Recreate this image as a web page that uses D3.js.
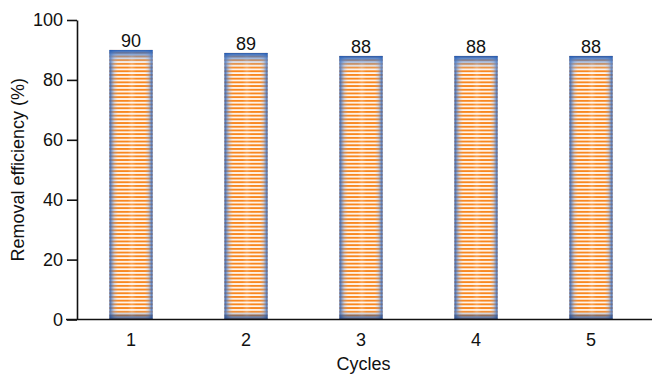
<!DOCTYPE html>
<html>
<head>
<meta charset="utf-8">
<script src="https://cdn.jsdelivr.net/npm/d3@7"></script>
<style>
  html, body { margin: 0; padding: 0; background: #fff; }
  svg { display: block; font-family: "Liberation Sans", Arial, Helvetica, sans-serif; }
</style>
</head>
<body>
<svg id="chart" width="652" height="375"></svg>
<script>
// Removal efficiency over repeated cycles
const cycles = ["1", "2", "3", "4", "5"];
const efficiency = [90, 89, 88, 88, 88];
const yTicks = [0, 20, 40, 60, 80, 100];
const xTitle = "Cycles";
const yTitle = "Removal efficiency (%)";

const svg = d3.select("#chart");
const W = 652, H = 375;
const FS = 18;

const x = d3.scaleBand()
  .domain(cycles)
  .range([73.5, 648.5])
  .paddingInner(0.625)
  .paddingOuter(0.3125);

const y = d3.scaleLinear()
  .domain([0, 100])
  .range([319.5, 20]);

const axisX = 77;

// Striped bar fill: orange/white bands, blue shading toward the edges
const defs = svg.append("defs");
const P = 3.7;
const stripe = defs.append("pattern")
  .attr("id", "stripes")
  .attr("patternUnits", "userSpaceOnUse")
  .attr("width", 10).attr("height", P);
stripe.append("rect").attr("width", 10).attr("height", P).attr("fill", "#fff6ee");
stripe.append("rect").attr("width", 10).attr("height", 1.9).attr("fill", "#f8871f");

const edge = defs.append("linearGradient")
  .attr("id", "edgeShade")
  .attr("x1", "0").attr("x2", "1").attr("y1", "0").attr("y2", "0");
[
  [0, "#2d5aa8", 0.95], [0.05, "#4a78c0", 0.7], [0.12, "#7d9bd0", 0.3], [0.2, "#a0b5de", 0.0],
  [0.42, "#ffffff", 0.0], [0.52, "#ffffff", 0.22], [0.62, "#ffffff", 0.0],
  [0.82, "#a0b5de", 0.0], [0.9, "#7d9bd0", 0.3], [0.96, "#4a78c0", 0.7], [1, "#2d5aa8", 0.95]
].forEach(([o, c, a]) => {
  edge.append("stop").attr("offset", o).attr("stop-color", c).attr("stop-opacity", a);
});

const vert = defs.append("linearGradient")
  .attr("id", "topShade")
  .attr("x1", "0").attr("x2", "0").attr("y1", "0").attr("y2", "1");
[
  [0, "#1f57b0", 0.95], [0.012, "#3f75c6", 0.75], [0.035, "#8fb0e0", 0.3],
  [0.06, "#ffffff", 0], [0.965, "#ffffff", 0], [0.985, "#2a4f8e", 0.5], [1, "#1f3f7a", 0.85]
].forEach(([o, c, a]) => {
  vert.append("stop").attr("offset", o).attr("stop-color", c).attr("stop-opacity", a);
});

const data = cycles.map((c, i) => ({ cycle: c, value: efficiency[i] }));

const bars = svg.append("g");
["url(#stripes)", "url(#edgeShade)", "url(#topShade)"].forEach((fill, k) => {
  bars.selectAll(`rect.layer${k}`)
    .data(data).join("rect")
    .attr("class", `layer${k}`)
    .attr("x", d => x(d.cycle))
    .attr("y", d => y(d.value))
    .attr("width", x.bandwidth())
    .attr("height", d => y(0) - y(d.value))
    .attr("fill", fill);
});

// Value labels
svg.append("g").selectAll("text")
  .data(data).join("text")
  .attr("x", d => x(d.cycle) + x.bandwidth() / 2)
  .attr("y", d => y(d.value) - 2.5)
  .attr("text-anchor", "middle")
  .attr("font-size", FS)
  .attr("fill", "#111")
  .text(d => d.value);

// Y axis
const gy = svg.append("g")
  .attr("transform", `translate(${axisX},0)`)
  .call(d3.axisLeft(y).tickValues(yTicks).tickSize(10).tickPadding(4).tickSizeOuter(0));
gy.select(".domain").attr("stroke", "#111").attr("stroke-width", 1.6);
gy.selectAll(".tick line").attr("stroke", "#111").attr("stroke-width", 1.6);
gy.selectAll(".tick text").attr("font-size", FS).attr("fill", "#111")
  .attr("font-family", "Liberation Sans, Arial, sans-serif");

// X axis
const gx = svg.append("g")
  .attr("transform", `translate(0,${y(0)})`)
  .call(d3.axisBottom(x).tickSize(0).tickPadding(14));
gx.select(".domain").remove();
gx.append("line")
  .attr("x1", axisX - 11).attr("x2", W)
  .attr("y1", 0).attr("y2", 0)
  .attr("stroke", "#111").attr("stroke-width", 1.6);
gx.selectAll(".tick text").attr("font-size", FS).attr("fill", "#111")
  .attr("font-family", "Liberation Sans, Arial, sans-serif");

// Axis titles
svg.append("text")
  .attr("x", (axisX + W) / 2 - 1)
  .attr("y", 370)
  .attr("text-anchor", "middle")
  .attr("font-size", FS)
  .attr("fill", "#111")
  .text(xTitle);

svg.append("text")
  .attr("transform", `translate(24,${y(50)}) rotate(-90)`)
  .attr("text-anchor", "middle")
  .attr("font-size", FS)
  .attr("fill", "#111")
  .text(yTitle);
</script>
</body>
</html>
